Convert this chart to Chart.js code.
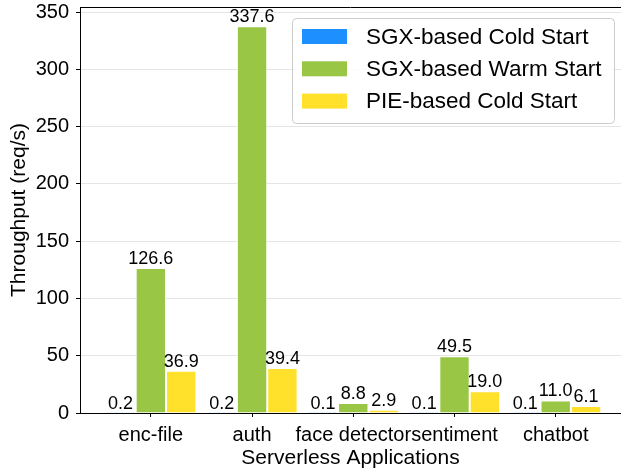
<!DOCTYPE html>
<html>
<head>
<meta charset="utf-8">
<script src="https://cdn.jsdelivr.net/npm/chart.js@4.4.1/dist/chart.umd.min.js"></script>
<style>
html, body { margin: 0; padding: 0; background: #fff; overflow: hidden; }
#wrap { width: 621px; height: 472px; }
</style>
</head>
<body>
<div id="wrap"><canvas id="chart" width="621" height="472"></canvas></div>
<script>
// Chart data
const apps = ['enc-file', 'auth', 'face detector', 'sentiment', 'chatbot'];
const seriesNames = ['SGX-based Cold Start', 'SGX-based Warm Start', 'PIE-based Cold Start'];
const sgxCold = [0.2, 0.2, 0.1, 0.1, 0.1];
const sgxWarm = [126.6, 337.6, 8.8, 49.5, 11.0];
const pieCold = [36.9, 39.4, 2.9, 19.0, 6.1];
const yTicks = [0, 50, 100, 150, 200, 250, 300, 350];
const colors = ['#1E8FFF', '#9AC646', '#FFE02A'];

const FONT = 'Arial, "Liberation Sans", sans-serif';

function toPoints(values) {
    return values.map((v, i) => ({ x: i, y: v }));
}

// Value labels above bars + top spine
const barLabels = {
    id: 'barLabels',
    afterDatasetsDraw(chart) {
        const ctx = chart.ctx;
        const ca = chart.chartArea;
        ctx.save();
        ctx.font = '18px ' + FONT;
        ctx.fillStyle = '#000';
        ctx.textAlign = 'center';
        ctx.textBaseline = 'alphabetic';
        chart.data.datasets.forEach((ds, di) => {
            chart.getDatasetMeta(di).data.forEach((bar, i) => {
                ctx.fillText(ds.data[i].y.toFixed(1), bar.x, bar.y - 4);
            });
        });
        // top spine
        ctx.strokeStyle = '#000';
        ctx.lineWidth = 1;
        ctx.beginPath();
        ctx.moveTo(ca.left, ca.top + 0.5);
        ctx.lineTo(ca.right, ca.top + 0.5);
        ctx.stroke();
        ctx.restore();
    }
};

// Legend box in the upper right
const boxLegend = {
    id: 'boxLegend',
    afterDraw(chart) {
        const ctx = chart.ctx;
        const ca = chart.chartArea;
        const x = ca.right - 329;
        const y = ca.top + 11;
        const w = 322, h = 105;
        ctx.save();
        ctx.fillStyle = 'rgba(255,255,255,0.85)';
        ctx.strokeStyle = '#cccccc';
        ctx.lineWidth = 1;
        ctx.beginPath();
        ctx.roundRect(x + 0.5, y + 0.5, w, h, 4);
        ctx.fill();
        ctx.stroke();
        ctx.font = '22.5px ' + FONT;
        ctx.textBaseline = 'middle';
        ctx.textAlign = 'left';
        chart.data.datasets.forEach((ds, i) => {
            const cy = y + 18.5 + i * 32.3;
            ctx.fillStyle = ds.backgroundColor;
            ctx.fillRect(x + 10, cy - 7.5, 45, 15);
            ctx.fillStyle = '#000';
            ctx.fillText(ds.label, x + 74, cy + 1);
        });
        ctx.restore();
    }
};

const ctx = document.getElementById('chart');
new Chart(ctx, {
    type: 'bar',
    data: {
        datasets: [
            { label: seriesNames[0], data: toPoints(sgxCold), backgroundColor: colors[0] },
            { label: seriesNames[1], data: toPoints(sgxWarm), backgroundColor: colors[1] },
            { label: seriesNames[2], data: toPoints(pieCold), backgroundColor: colors[2] }
        ]
    },
    options: {
        responsive: false,
        animation: false,
        layout: { padding: { top: 7, right: 0, left: 0, bottom: 0 } },
        datasets: {
            bar: {
                categoryPercentage: 0.9,
                barPercentage: 1.0,
                borderColor: '#ffffff',
                borderWidth: 1
            }
        },
        plugins: {
            legend: { display: false },
            tooltip: { enabled: false }
        },
        scales: {
            x: {
                type: 'linear',
                min: -0.7,
                max: 4.645,
                offset: false,
                afterBuildTicks(scale) {
                    scale.ticks = apps.map((_, i) => ({ value: i }));
                },
                afterFit(scale) {
                    scale.height = 59;
                    scale.paddingLeft = 0;
                    scale.paddingRight = 0;
                },
                grid: {
                    offset: false,
                    drawOnChartArea: false,
                    drawTicks: true,
                    tickLength: 4,
                    tickColor: '#000'
                },
                border: { display: true, color: '#000', width: 1 },
                ticks: {
                    autoSkip: false,
                    maxRotation: 0,
                    padding: 6,
                    color: '#000',
                    font: { family: FONT, size: 20 },
                    callback: (v) => apps[v]
                },
                title: {
                    display: true,
                    text: 'Serverless Applications',
                    color: '#000',
                    font: { family: FONT, size: 21 },
                    padding: { top: 0, bottom: 1 }
                }
            },
            y: {
                min: 0,
                max: 354.5,
                afterBuildTicks(scale) {
                    scale.ticks = yTicks.map(v => ({ value: v }));
                },
                afterFit(scale) {
                    scale.width = 80;
                    scale.paddingTop = 0;
                    scale.paddingBottom = 0;
                },
                grid: {
                    color: '#e5e5e5',
                    drawTicks: true,
                    tickLength: 4,
                    tickColor: '#000'
                },
                border: { display: true, color: '#000', width: 1 },
                ticks: {
                    padding: 7,
                    color: '#000',
                    font: { family: FONT, size: 20 }
                },
                title: {
                    display: true,
                    text: 'Throughput (req/s)',
                    color: '#000',
                    font: { family: FONT, size: 21 },
                    padding: { top: 7, bottom: 0 }
                }
            }
        }
    },
    plugins: [barLabels, boxLegend]
});
</script>
</body>
</html>
